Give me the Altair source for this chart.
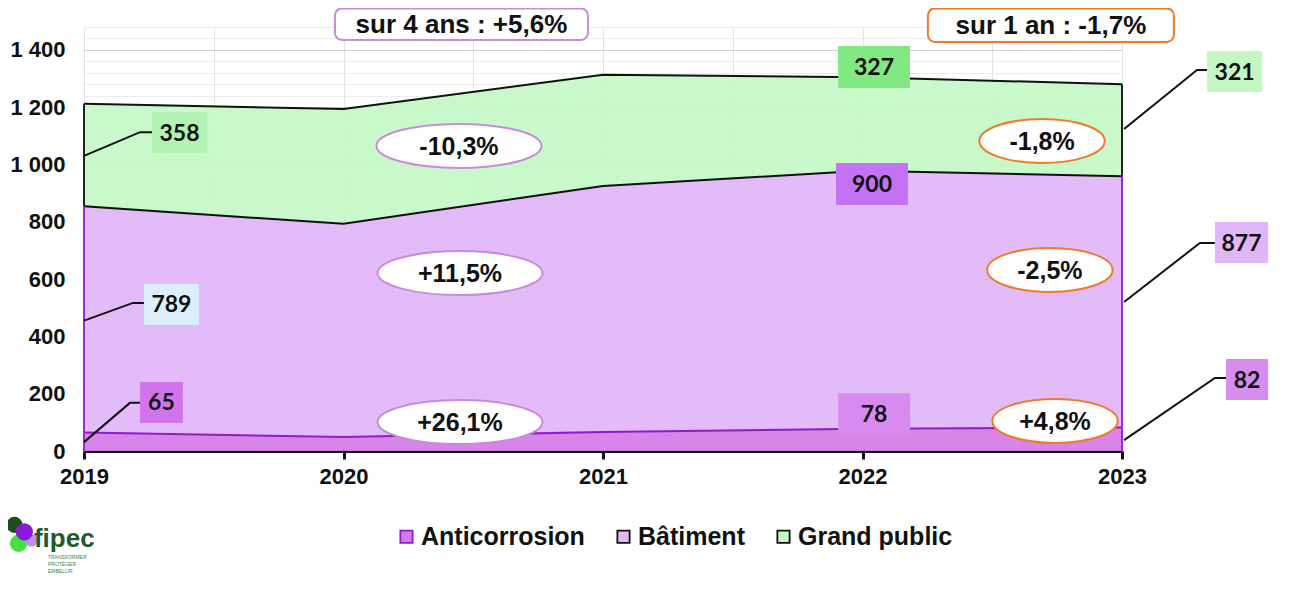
import altair as alt
import pandas as pd

# ---------------- data ----------------
years = [2019, 2020, 2021, 2022, 2023]
anticorrosion = [65, 49, 66, 78, 82]
batiment = [789, 744, 859, 900, 877]
grand_public = [358, 401, 388, 327, 321]

series_names = ["Anticorrosion", "Bâtiment", "Grand public"]
series_values = [anticorrosion, batiment, grand_public]

y_grid = list(range(0, 1481, 40))
x_grid = [2019, 2019.5, 2020, 2020.5, 2021, 2021.5, 2022, 2022.5, 2023]

# ---------------- styles ----------------
fill_colors = ["#d47be6", "#e1b5f8", "#c4f7c6"]
top_colors = ["#8f1ccc", "#111111", "#111111"]
FONT = "Liberation Sans"

rows = []
for i, yr in enumerate(years):
    base = 0
    for name, vals in zip(series_names, series_values):
        rows.append(dict(year=yr, series=name, lower=base, upper=base + vals[i]))
        base += vals[i]
df = pd.DataFrame(rows)

xs = alt.Scale(domain=[2019, 2023], nice=False, zero=False)
ys = alt.Scale(domain=[0, 1480], nice=False, zero=True)

x_axis = alt.Axis(
    values=x_grid,
    labelExpr="datum.value % 1 === 0 ? '' + datum.value : ''",
    labelOverlap=False, labelFlush=False,
    labelFont=FONT, labelFontWeight="bold", labelFontSize=22, labelColor="#111",
    labelPadding=7,
    tickColor="#111", tickWidth=3, tickSize=8,
    tickOpacity={"condition": {"test": "datum.value % 1 !== 0", "value": 0}, "value": 1},
    domainColor="#111", domainWidth=3,
    grid=True, gridColor="#e4e4e4", gridWidth=1,
    title=None,
)
y_axis = alt.Axis(
    values=y_grid,
    labelExpr="datum.value % 200 === 0 ? replace(format(datum.value, ','), ',', ' ') : ''",
    labelOverlap=False,
    labelFont=FONT, labelFontWeight="bold", labelFontSize=22, labelColor="#111",
    labelPadding=19,
    domain=False, ticks=False,
    grid=True,
    gridColor={"condition": {"test": "datum.value % 200 === 0", "value": "#d2d2d2"}, "value": "#ececec"},
    gridWidth=1,
    title=None,
)


def X(field):
    return alt.X(field, scale=xs, axis=x_axis)


def Y(field):
    return alt.Y(field, scale=ys, axis=y_axis)


base = alt.Chart(df)

legend_stroke = (
    "datum.value === 'Anticorrosion' ? '#a8332a' : "
    "datum.value === 'Bâtiment' ? '#9a2ad8' : '#333333'"
)

area = base.mark_area(fillOpacity=0.92, strokeWidth=0).encode(
    x=X("year:Q"),
    y=Y("upper:Q"),
    y2="lower:Q",
    fill=alt.Fill(
        "series:N",
        scale=alt.Scale(domain=series_names, range=fill_colors),
        legend=alt.Legend(
            orient="none", legendX=310, legendY=497, direction="horizontal",
            title=None, symbolType="square", symbolSize=150,
            symbolStrokeColor=alt.ExprRef(expr=legend_stroke), symbolStrokeWidth=1.8, symbolOpacity=1,
            labelFont=FONT, labelFontWeight="bold", labelFontSize=25, labelColor="#111",
            labelOffset=2, columnPadding=26, labelLimit=400,
        ),
    ),
)

tops = base.mark_line(strokeWidth=2).encode(
    x=X("year:Q"),
    y=Y("upper:Q"),
    stroke=alt.Stroke("series:N", scale=alt.Scale(domain=series_names, range=top_colors), legend=None),
    detail="series:N",
)

ends = df[df["year"].isin([years[0], years[-1]])]
end_purple = alt.Chart(ends[ends["series"] != "Grand public"]).mark_rule(strokeWidth=2, color="#9a2ad8").encode(
    x=X("year:Q"), y=Y("lower:Q"), y2="upper:Q",
)
end_black = alt.Chart(ends[ends["series"] == "Grand public"]).mark_rule(strokeWidth=2, color="#222").encode(
    x=X("year:Q"), y=Y("lower:Q"), y2="upper:Q",
)

# ---------------- annotations ----------------
box_label = ["358", "789", "65", "327", "900", "78", "321", "877", "82"]
box_x1 = [2019.262, 2019.231, 2019.216, 2021.906, 2021.898, 2021.906, 2023.328, 2023.358, 2023.401]
box_x2 = [2019.474, 2019.443, 2019.381, 2022.183, 2022.175, 2022.183, 2023.540, 2023.563, 2023.563]
box_y1 = [1040, 440, 98, 1267, 859, 59, 1253, 656, 178]
box_y2 = [1183, 583, 241, 1414, 1005, 202, 1396, 799, 321]
box_color = ["#b2f2b2", "#dceefa", "#d174ec", "#82e882", "#c272f2", "#d88aee", "#c4f6c4", "#e2b5f7", "#d68bee"]
boxes = pd.DataFrame(dict(label=box_label, x1=box_x1, x2=box_x2, y1=box_y1, y2=box_y2, c=box_color))
boxes["xc"] = (boxes["x1"] + boxes["x2"]) / 2
boxes["yc"] = (boxes["y1"] + boxes["y2"]) / 2

box_rect = alt.Chart(boxes).mark_rect().encode(
    x=X("x1:Q"), x2="x2:Q",
    y=Y("y1:Q"), y2="y2:Q",
    fill=alt.Fill("c:N", scale=None),
)
box_text = alt.Chart(boxes).mark_text(font="Lato", fontWeight="bold", fontSize=23, color="#111", baseline="middle", dy=1).encode(
    x=X("xc:Q"), y=Y("yc:Q"), text="label:N",
)

lead_id = ["a", "a", "a", "b", "b", "b", "c", "c", "c", "d", "d", "d", "e", "e", "e", "f", "f", "f"]
lead_ord = [0, 1, 2] * 6
lead_x = [2019, 2019.216, 2019.262,
          2019, 2019.189, 2019.231,
          2019, 2019.177, 2019.216,
          2023.008, 2023.289, 2023.328,
          2023.008, 2023.300, 2023.358,
          2023.008, 2023.358, 2023.401]
lead_y = [1030, 1113, 1113,
          455, 517, 517,
          31, 168, 168,
          1124, 1330, 1330,
          520, 726, 726,
          38, 255, 255]
leads = pd.DataFrame(dict(id=lead_id, o=lead_ord, x=lead_x, y=lead_y))
lead_lines = alt.Chart(leads).mark_line(color="#111", strokeWidth=2).encode(
    x=X("x:Q"), y=Y("y:Q"), detail="id:N", order="o:Q",
)

ell_label = ["-10,3%", "+11,5%", "+26,1%", "-1,8%", "-2,5%", "+4,8%"]
ell_x = [2020.445, 2020.449, 2020.449, 2022.692, 2022.722, 2022.742]
ell_y = [1065, 621, 101, 1082, 632, 105]
ell_grp = ["left", "left", "left", "right", "right", "right"]
ells = pd.DataFrame(dict(label=ell_label, x=ell_x, y=ell_y, g=ell_grp))

ell_left = alt.Chart(ells[ells["g"] == "left"]).mark_point(
    shape="M-3.75,0A3.75,1,0,1,0,3.75,0A3.75,1,0,1,0,-3.75,0Z",
    size=44 * 44, filled=True, fill="white", stroke="#c98ad9", strokeWidth=2, opacity=1,
).encode(x=X("x:Q"), y=Y("y:Q"))
ell_right = alt.Chart(ells[ells["g"] == "right"]).mark_point(
    shape="M-2.85,0A2.85,1,0,1,0,2.85,0A2.85,1,0,1,0,-2.85,0Z",
    size=44 * 44, filled=True, fill="white", stroke="#ee7a2a", strokeWidth=2, opacity=1,
).encode(x=X("x:Q"), y=Y("y:Q"))
ell_text = alt.Chart(ells).mark_text(font=FONT, fontWeight="bold", fontSize=25, color="#111", baseline="middle", dy=1).encode(
    x=X("x:Q"), y=Y("y:Q"), text="label:N",
)

ttl_label = ["sur 4 ans : +5,6%", "sur 1 an : -1,7%"]
ttl_x1 = [2019.967, 2022.252]
ttl_x2 = [2020.942, 2023.200]
ttl_y1 = [1435, 1428]
ttl_y2 = [1545, 1545]
ttl_stroke = ["#c98ad9", "#ee7a2a"]
ttl = pd.DataFrame(dict(label=ttl_label, x1=ttl_x1, x2=ttl_x2, y1=ttl_y1, y2=ttl_y2, s=ttl_stroke))
ttl["xc"] = (ttl["x1"] + ttl["x2"]) / 2
ttl["yc"] = (ttl["y1"] + ttl["y2"]) / 2
ttl_rect = alt.Chart(ttl).mark_rect(fill="white", strokeWidth=2, cornerRadius=7).encode(
    x=X("x1:Q"), x2="x2:Q",
    y=Y("y1:Q"), y2="y2:Q",
    stroke=alt.Stroke("s:N", scale=None),
)
ttl_text = alt.Chart(ttl).mark_text(font=FONT, fontWeight="bold", fontSize=26, color="#111", baseline="middle", dy=1).encode(
    x=X("xc:Q"), y=Y("yc:Q"), text="label:N",
)

# ---------------- logo ----------------
blob_x = [2018.732, 2018.748, 2018.797, 2018.770]
blob_y = [-258, -322, -312, -282]
blob_s = [260, 300, 160, 300]
blob_c = ["#1e4d1e", "#44e044", "#c08ff0", "#8a18d8"]
blobs = pd.DataFrame(dict(x=blob_x, y=blob_y, s=blob_s, c=blob_c, o=[0, 1, 2, 3]))
logo_blobs = alt.Chart(blobs).mark_circle(opacity=1).encode(
    x=X("x:Q"), y=Y("y:Q"),
    size=alt.Size("s:Q", scale=None), color=alt.Color("c:N", scale=None), order="o:Q",
)
logo_name = alt.Chart(pd.DataFrame(dict(x=[2018.807], y=[-335], t=["fipec"]))).mark_text(
    font=FONT, fontWeight="bold", fontSize=26, color="#1f5a2a", align="left", baseline="alphabetic"
).encode(x=X("x:Q"), y=Y("y:Q"), text="t:N")
tag_lines = ["TRANSFORMER", "PROTÉGER", "EMBELLIR"]
tags = pd.DataFrame(dict(x=[2018.861] * 3, y=[-370, -394, -419], t=tag_lines))
logo_tags = alt.Chart(tags).mark_text(font=FONT, fontSize=5, color="#3a8a3a", align="left", baseline="middle").encode(
    x=X("x:Q"), y=Y("y:Q"), text="t:N"
)

chart = alt.layer(
    area, tops, end_purple, end_black,
    lead_lines, box_rect, box_text,
    ell_left, ell_right, ell_text,
    ttl_rect, ttl_text,
    logo_blobs, logo_name, logo_tags,
).properties(
    width=1038, height=424,
    padding={"left": 76, "top": 19, "right": 170, "bottom": 132},
    autosize=alt.AutoSizeParams(type="none"),
    background="white",
).configure_view(stroke=None)

chart.save("out.html", embed_options={"renderer": "svg", "actions": False})
